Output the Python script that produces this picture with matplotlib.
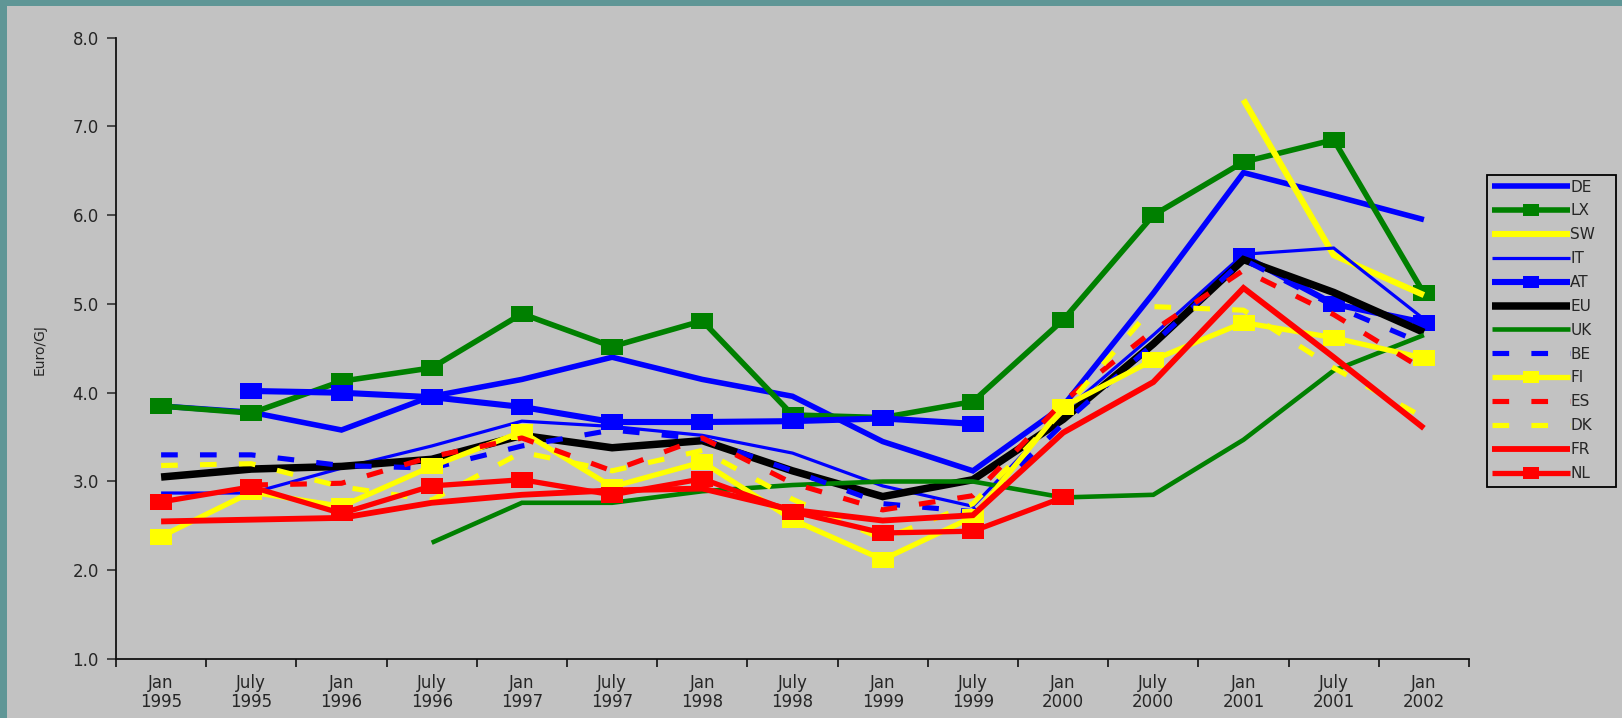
import numpy as np
import matplotlib.pyplot as plt
from matplotlib.patches import Rectangle

nan = np.nan

# periods on the x axis
periods = ["Jan\n1995", "July\n1995", "Jan\n1996", "July\n1996", "Jan\n1997",
           "July\n1997", "Jan\n1998", "July\n1998", "Jan\n1999", "July\n1999",
           "Jan\n2000", "July\n2000", "Jan\n2001", "July\n2001", "Jan\n2002"]

# Euro/GJ per country
DE = [3.85, 3.78, 3.58, 3.96, 4.15, 4.40, 4.15, 3.96, 3.45, 3.12, 3.85, 5.12, 6.48, 6.22, 5.95]
LX = [3.85, 3.77, 4.13, 4.28, 4.89, 4.52, 4.81, 3.75, 3.72, 3.90, 4.82, 6.00, 6.60, 6.85, 5.12]
SW = [nan, nan, nan, nan, nan, nan, nan, nan, nan, nan, nan, nan, 7.30, 5.55, 5.10]
IT = [2.87, 2.87, 3.15, 3.40, 3.68, 3.62, 3.52, 3.32, 2.95, 2.72, 3.78, 4.65, 5.56, 5.63, 4.83]
AT = [nan, 4.02, 4.00, 3.95, 3.84, 3.67, 3.67, 3.68, 3.71, 3.65, nan, nan, 5.54, 5.00, 4.79]
EU = [3.05, 3.14, 3.17, 3.25, 3.52, 3.38, 3.46, 3.12, 2.83, 3.02, 3.70, 4.55, 5.50, 5.13, 4.68]
UK = [nan, nan, nan, 2.31, 2.76, 2.76, 2.89, 2.96, 3.00, 3.00, 2.82, 2.85, 3.47, 4.25, 4.65]
BE = [3.30, 3.30, 3.18, 3.15, 3.40, 3.58, 3.48, 3.12, 2.75, 2.66, 3.65, 4.55, 5.50, 4.98, 4.55]
FI = [2.38, 2.88, 2.72, 3.17, 3.56, 2.94, 3.22, 2.57, 2.12, 2.60, 3.84, 4.37, 4.79, 4.62, 4.39]
ES = [nan, 2.96, 2.98, 3.28, 3.49, 3.12, 3.49, 2.98, 2.68, 2.84, 3.90, 4.70, 5.38, 4.88, 4.26]
DK = [3.18, 3.20, 2.94, 2.79, 3.33, 3.12, 3.35, 2.80, 2.35, 2.75, 3.80, 4.97, 4.93, 4.28, 3.72]
FR = [2.55, 2.57, 2.59, 2.76, 2.85, 2.90, 2.92, 2.68, 2.56, 2.62, 3.55, 4.12, 5.18, 4.40, 3.60]
NL = [2.77, 2.94, 2.64, 2.95, 3.02, 2.85, 3.03, 2.66, 2.42, 2.44, 2.82, nan, nan, nan, nan]

plt.rcParams['font.family'] = ['DejaVu Sans']
plt.rcParams['lines.scale_dashes'] = False

W, H = 1622, 718
fig = plt.figure(figsize=(W / 100, H / 100), dpi=100)
fig.patch.set_facecolor('#5f9696')
# gray panel inside the teal frame
fig.patches.append(Rectangle((7 / W, 0), 1 - 7 / W, 1 - 6 / H, transform=fig.transFigure,
                             facecolor='#c2c2c2', edgecolor='none', zorder=-10))
# legend frame, x 1487..1616, y 175..487 px
fig.patches.append(Rectangle((1487 / W, 1 - 487 / H), 129 / W, 312 / H,
                             transform=fig.transFigure, facecolor='none',
                             edgecolor='black', lw=1.3, zorder=5))

ax = fig.add_axes([116 / W, 59 / H, (1469 - 116) / W, (659 - 37.7) / H])
ax.set_facecolor('none')

x = np.arange(len(periods))
# wide, flat square marker
box = [(-1.4, -1), (1.4, -1), (1.4, 1), (-1.4, 1), (-1.4, -1)]

# (label, values, color, linewidth, marker, dashes)
series = [
    ("DE", DE, 'blue', 4.0, None, None),
    ("LX", LX, 'green', 4.0, box, None),
    ("SW", SW, 'yellow', 4.4, None, None),
    ("IT", IT, 'blue', 2.3, None, None),
    ("AT", AT, 'blue', 4.4, box, None),
    ("EU", EU, 'black', 5.4, None, None),
    ("UK", UK, 'green', 3.3, None, None),
    ("BE", BE, 'blue', 3.7, None, (12, 16)),
    ("FI", FI, 'yellow', 3.8, box, None),
    ("ES", ES, 'red', 3.7, None, (12, 16)),
    ("DK", DK, 'yellow', 3.7, None, (12, 16)),
    ("FR", FR, 'red', 4.2, None, None),
    ("NL", NL, 'red', 3.8, box, None),
]

for label, vals, color, lw, marker, dashes in series:
    line, = ax.plot(x, vals, color=color, lw=lw, label=label,
                    marker=marker, markersize=16, markeredgewidth=0,
                    solid_joinstyle='miter', solid_capstyle='butt')
    if dashes:
        line.set_dashes(dashes)

txt = '#262626'
ax.set_xlim(-0.5, 14.5)
ax.set_ylim(1, 8)
ax.set_yticks(np.arange(1, 9))
ax.set_yticklabels([f"{v:.1f}" for v in range(1, 9)])

ax.set_xticks(np.arange(-0.5, 15, 1))
ax.set_xticklabels([])
ax.set_xticks(x, minor=True)
ax.set_xticklabels(periods, minor=True, linespacing=1.05)
ax.tick_params(axis='x', which='major', direction='out', length=6, width=1.1)
ax.tick_params(axis='x', which='minor', length=0, pad=11, labelsize=12, colors=txt)
ax.tick_params(axis='y', direction='out', length=6.5, width=1.1, pad=6,
               labelsize=12, colors=txt)

for s in ['top', 'right']:
    ax.spines[s].set_visible(False)
for s in ['left', 'bottom']:
    ax.spines[s].set_linewidth(1.3)
    ax.spines[s].set_color('#111111')

fig.text(40 / W, 1 - 350 / H, "Euro/GJ", rotation=90, fontsize=10,
         color=txt, ha='center', va='center')

leg = ax.legend(loc='upper left', bbox_to_anchor=(1487 / W, 1 - 175 / H),
                bbox_transform=fig.transFigure, borderaxespad=0,
                prop={'size': 11}, frameon=False, handlelength=5.1,
                handletextpad=0.05, labelspacing=0.58, borderpad=0.3,
                markerscale=0.75)
for t in leg.get_texts():
    t.set_color(txt)

fig.savefig("out.png", dpi=100, facecolor=fig.get_facecolor())
